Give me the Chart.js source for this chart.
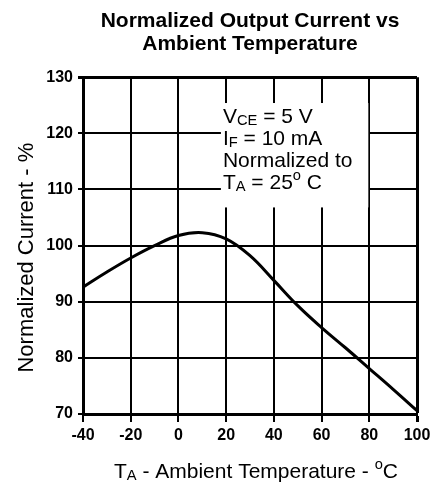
<!DOCTYPE html>
<html lang="en">
<head>
    <meta charset="UTF-8">
    <title>Normalized Output Current vs Ambient Temperature</title>
    <script src="https://cdn.jsdelivr.net/npm/chart.js"></script>
    <style>
        html, body { margin: 0; padding: 0; background: #fff; }
        #wrap { width: 439px; height: 483px; }
    </style>
</head>
<body>
    <div id="wrap">
        <canvas id="graph" width="439" height="483"></canvas>
    </div>
</body>
<script>
    // values
    const temps = [-40, -30, -20, -10, 0, 10, 20, 30, 40, 50, 60, 70, 80, 90, 100];
    const current = [92.6, 95.3, 97.8, 100.0, 101.8, 102.3, 101.2, 98.2, 93.8, 89.3, 85.4, 81.8, 78.1, 74.4, 70.6];

    const titleLines = ['Normalized Output Current vs', 'Ambient Temperature'];
    const xTicks = [-40, -20, 0, 20, 40, 60, 80, 100];
    const yTicks = [70, 80, 90, 100, 110, 120, 130];

    // text with sub/superscripts, as parts
    const xTitle = [['T'], ['A', 'sub'], [' - Ambient Temperature - '], ['o', 'sup'], ['C']];
    const yTitle = 'Normalized Current - %';
    const noteLines = [
        [['V'], ['CE', 'sub'], [' = 5 V']],
        [['I'], ['F', 'sub'], [' = 10 mA']],
        [['Normalized to']],
        [['T'], ['A', 'sub'], [' = 25'], ['o', 'sup'], [' C']]
    ];

    const FONT = '"Liberation Sans", Arial, Helvetica, sans-serif';

    function partsWidth(ctx, parts, size) {
        let w = 0;
        parts.forEach(p => {
            const s = p[1] ? size * 0.7 : size;
            ctx.font = s + 'px ' + FONT;
            w += ctx.measureText(p[0]).width;
        });
        return w;
    }

    function drawParts(ctx, parts, x, y, size) {
        parts.forEach(p => {
            let s = size, dy = 0;
            if (p[1] === 'sub') { s = size * 0.7; dy = size * 0.08; }
            if (p[1] === 'sup') { s = size * 0.7; dy = -size * 0.42; }
            ctx.font = s + 'px ' + FONT;
            ctx.fillText(p[0], x, y + dy);
            x += ctx.measureText(p[0]).width;
        });
    }

    const labels = {
        id: 'labels',
        beforeDatasetsDraw(chart) {
            const ctx = chart.ctx;
            const xs = chart.scales.x, ys = chart.scales.y;
            // white box for the conditions note
            const bx = xs.getPixelForValue(17.8), bx2 = xs.getPixelForValue(79.6);
            const by = ys.getPixelForValue(125.4), by2 = ys.getPixelForValue(106.8);
            ctx.save();
            ctx.fillStyle = '#fff';
            ctx.fillRect(bx, by, bx2 - bx, by2 - by);
            ctx.fillStyle = '#000';
            ctx.textBaseline = 'alphabetic';
            ctx.textAlign = 'left';
            noteLines.forEach((line, i) => {
                drawParts(ctx, line, bx + 2, by + 20 + i * 22, 21);
            });
            ctx.restore();
        },
        afterDraw(chart) {
            const ctx = chart.ctx;
            const area = chart.chartArea;
            ctx.save();
            ctx.fillStyle = '#000';
            ctx.textBaseline = 'alphabetic';
            ctx.textAlign = 'left';
            const w = partsWidth(ctx, xTitle, 21);
            drawParts(ctx, xTitle, (area.left + area.right) / 2 + 6 - w / 2, 478, 21);

            ctx.translate(33, (area.top + area.bottom) / 2 + 12);
            ctx.rotate(-Math.PI / 2);
            ctx.textAlign = 'center';
            ctx.font = '22px ' + FONT;
            ctx.fillText(yTitle, 0, 0);
            ctx.restore();
        }
    };

    const ctx = document.getElementById('graph');

    new Chart(ctx, {
        type: 'line',
        data: {
            datasets: [{
                label: 'Normalized Current',
                data: temps.map((t, i) => ({ x: t, y: current[i] })),
                borderColor: '#000',
                borderWidth: 3,
                pointRadius: 0,
                tension: 0.4,
                fill: false
            }]
        },
        options: {
            responsive: false,
            animation: false,
            layout: { padding: { left: 0, right: 22, top: 0, bottom: 0 } },
            plugins: {
                legend: { display: false },
                tooltip: { enabled: false },
                title: {
                    display: true,
                    fullSize: false,
                    text: titleLines,
                    color: '#000',
                    font: { family: FONT, size: 21, weight: 'bold', lineHeight: 1.1 },
                    padding: { top: 10, bottom: 21 }
                }
            },
            scales: {
                x: {
                    type: 'linear',
                    min: -40,
                    max: 100,
                    afterFit(scale) { scale.height = 69; },
                    afterBuildTicks(scale) { scale.ticks = xTicks.map(v => ({ value: v })); },
                    grid: {
                        color: '#000',
                        lineWidth: c => (c.index === xTicks.length - 1 ? 3 : 2),
                        tickLength: 8
                    },
                    border: { color: '#000', width: 3 },
                    ticks: {
                        color: '#000',
                        padding: 4,
                        maxRotation: 0,
                        font: { family: FONT, size: 16, weight: 'bold' }
                    }
                },
                y: {
                    min: 70,
                    max: 130,
                    afterFit(scale) { scale.width = 83; },
                    afterBuildTicks(scale) { scale.ticks = yTicks.map(v => ({ value: v })); },
                    grid: {
                        color: '#000',
                        lineWidth: c => (c.index === yTicks.length - 1 ? 3 : 2),
                        tickLength: 5
                    },
                    border: { color: '#000', width: 3 },
                    ticks: {
                        color: '#000',
                        padding: 5,
                        font: { family: FONT, size: 16, weight: 'bold' }
                    }
                }
            }
        },
        plugins: [labels]
    });
</script>
</html>
